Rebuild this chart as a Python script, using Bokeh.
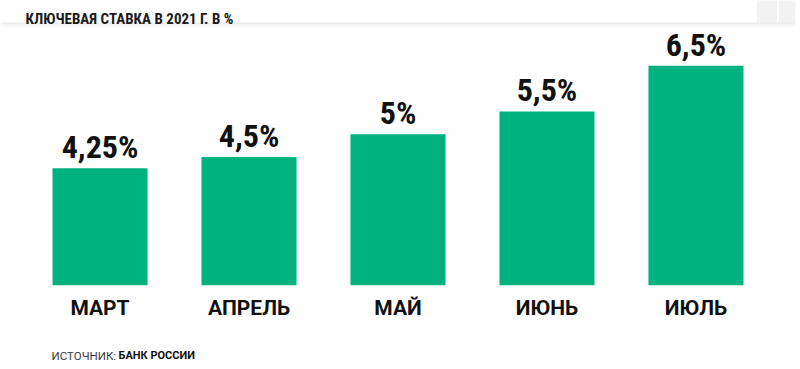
from bokeh.plotting import figure
from bokeh.layouts import column
from bokeh.models import ColumnDataSource, LabelSet, Label, BoxAnnotation, FactorRange, Range1d
from bokeh.core.properties import value
from bokeh.embed import file_html
from bokeh.resources import INLINE

months = ["МАРТ", "АПРЕЛЬ", "МАЙ", "ИЮНЬ", "ИЮЛЬ"]
rates = [4.25, 4.5, 5.0, 5.5, 6.5]
rate_labels = ["4,25%", "4,5%", "5%", "5,5%", "6,5%"]
title_text = "КЛЮЧЕВАЯ СТАВКА В 2021 Г. В %"
source_prefix = "ИСТОЧНИК:"
source_name = "БАНК РОССИИ"

GREEN = "#00b37e"
COND = "Roboto Condensed"

src = ColumnDataSource(dict(month=months, rate=rates, label=rate_labels))

BASE = 1.68
p = figure(width=800, height=335, output_backend="svg", toolbar_location=None,
           x_range=FactorRange(*months, range_padding=0.168, range_padding_units="absolute"),
           y_range=Range1d(BASE, 7.933),
           min_border_left=0, min_border_right=5, min_border_top=0, min_border_bottom=50,
           outline_line_color=None, background_fill_color="white", border_fill_color="white")

p.vbar(x="month", top="rate", bottom=BASE, width=0.638, source=src,
       fill_color=GREEN, line_color=None)

p.add_layout(LabelSet(x="month", y="rate", text="label", source=src,
                      text_align="center", text_baseline="alphabetic", y_offset=10,
                      text_font=value(COND), text_font_style="bold",
                      text_font_size="32px", text_color="#111111"))

p.yaxis.visible = False
p.grid.visible = False
p.xaxis.axis_line_color = None
p.xaxis.major_tick_line_color = None
p.xaxis.minor_tick_line_color = None
p.xaxis.major_label_text_font = "Roboto"
p.xaxis.major_label_text_font_style = "bold"
p.xaxis.major_label_text_font_size = "21px"
p.xaxis.major_label_text_color = "#111111"
p.xaxis.major_label_standoff = 4

def sbox(l, r, t, b, fill, line=None):
    return BoxAnnotation(left=l, right=r, top=t, bottom=b,
                         left_units="screen", right_units="screen",
                         top_units="screen", bottom_units="screen",
                         fill_color=fill, fill_alpha=1, line_color=line)

# header shadow and title (frame height 285)
p.add_layout(sbox(0, 795, 263, 261, "#ededed"))
p.add_layout(sbox(0, 795, 261, 259, "#f6f6f6"))
p.add_layout(Label(x=25, y=266.5, x_units="screen", y_units="screen",
                   text=title_text, text_font=COND, text_font_style="bold",
                   text_font_size="15px", text_color="#1a1a1a", text_baseline="alphabetic"))

# logo placeholders
for l, r in [(757, 776), (779, 795)]:
    p.add_layout(sbox(l, r, 285, 263, "#f2f2f2", "#e4e4e4"))

# source strip
s = figure(width=800, height=34, output_backend="svg", toolbar_location=None,
           min_border=0, outline_line_color=None, x_axis_type=None, y_axis_type=None)
s.grid.visible = False
s.add_layout(Label(x=51, y=14, x_units="screen", y_units="screen",
                   text=source_prefix, text_font="Roboto",
                   text_font_size="11.5px", text_color="#3a3a3a", text_baseline="alphabetic"))
s.add_layout(Label(x=118, y=14, x_units="screen", y_units="screen",
                   text=source_name, text_font="Roboto", text_font_style="bold",
                   text_font_size="11px", text_color="#111111", text_baseline="alphabetic"))

open("out.html", "w").write(file_html(column(p, s, spacing=0), INLINE))
